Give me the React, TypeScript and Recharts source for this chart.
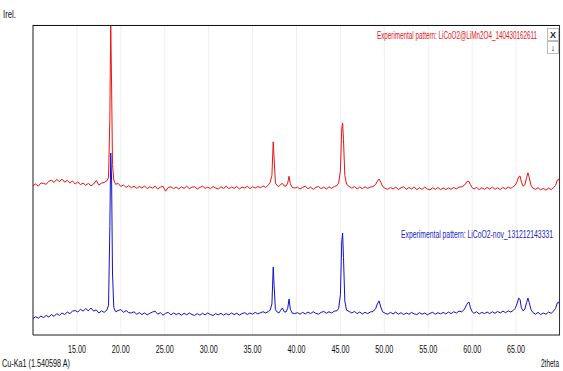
import { LineChart, Line, XAxis, YAxis, CartesianGrid } from 'recharts';

// 2theta positions (deg), denser around the reflections
const twoTheta = [
  10.0, 10.3, 10.6, 10.9, 11.2, 11.5, 11.8, 12.1, 12.4, 12.7,
  13.0, 13.3, 13.6, 13.9, 14.2, 14.5, 14.8, 15.1, 15.4, 15.7,
  16.0, 16.3, 16.6, 16.9, 17.2, 17.5, 17.8, 18.1, 18.4, 18.6,
  18.75, 18.85, 18.95, 19.05, 19.2, 19.4, 19.7, 20.0, 20.3, 20.6,
  20.9, 21.2, 21.5, 21.8, 22.1, 22.4, 22.7, 23.0, 23.3, 23.6,
  23.9, 24.2, 24.5, 24.8, 25.1, 25.4, 25.7, 26.0, 26.3, 26.6,
  26.9, 27.2, 27.5, 27.8, 28.1, 28.4, 28.7, 29.0, 29.3, 29.6,
  29.9, 30.2, 30.5, 30.8, 31.1, 31.4, 31.7, 32.0, 32.3, 32.6,
  32.9, 33.2, 33.5, 33.8, 34.1, 34.4, 34.7, 35.0, 35.3, 35.6,
  35.9, 36.2, 36.5, 36.8, 37.0, 37.2, 37.35, 37.45, 37.6, 37.8,
  38.0, 38.2, 38.4, 38.6, 38.8, 39.0, 39.15, 39.3, 39.5, 39.8,
  40.1, 40.4, 40.7, 41.0, 41.3, 41.6, 41.9, 42.2, 42.5, 42.8,
  43.1, 43.4, 43.7, 44.0, 44.3, 44.6, 44.8, 45.0, 45.15, 45.25,
  45.35, 45.5, 45.7, 46.0, 46.3, 46.6, 46.9, 47.2, 47.5, 47.8,
  48.1, 48.4, 48.7, 49.0, 49.2, 49.4, 49.6, 49.8, 50.1, 50.4,
  50.7, 51.0, 51.3, 51.6, 51.9, 52.2, 52.5, 52.8, 53.1, 53.4,
  53.7, 54.0, 54.3, 54.6, 54.9, 55.2, 55.5, 55.8, 56.1, 56.4,
  56.7, 57.0, 57.3, 57.6, 57.9, 58.2, 58.5, 58.8, 59.1, 59.3,
  59.5, 59.65, 59.8, 60.0, 60.2, 60.5, 60.8, 61.1, 61.4, 61.7,
  62.0, 62.3, 62.6, 62.9, 63.2, 63.5, 63.8, 64.1, 64.4, 64.7,
  64.9, 65.1, 65.3, 65.45, 65.6, 65.8, 66.0, 66.2, 66.35, 66.5,
  66.7, 66.9, 67.2, 67.5, 67.8, 68.1, 68.4, 68.7, 69.0, 69.3,
  69.5, 69.7, 69.85, 70.0,
];

// LiCoO2@LiMn2O4 (red), relative intensity, offset upwards
const redPattern = [
  48.2, 48.7, 48.0, 49.0, 48.9, 48.6, 49.6, 49.9, 49.2, 50.2,
  49.5, 50.3, 49.3, 49.9, 49.0, 49.7, 48.7, 49.4, 48.5, 49.0,
  48.3, 48.9, 48.1, 48.7, 49.8, 48.4, 49.0, 49.2, 49.7, 50.8,
  70.0, 100, 80.0, 55.0, 50.0, 48.6, 48.9, 47.9, 48.4, 47.6,
  48.2, 47.5, 48.0, 47.3, 47.9, 47.4, 48.1, 47.2, 47.8, 47.4,
  48.0, 47.1, 47.7, 48.0, 46.4, 47.6, 47.8, 47.2, 47.7, 47.1,
  47.8, 47.3, 48.0, 47.2, 47.7, 47.8, 47.1, 47.6, 48.0, 47.3,
  47.7, 47.2, 47.9, 47.4, 47.1, 47.8, 47.3, 48.0, 47.2, 47.7,
  47.3, 47.9, 47.1, 47.7, 47.4, 48.0, 47.2, 47.8, 47.4, 47.9,
  47.5, 48.1, 47.6, 48.4, 49.2, 51.5, 62.3, 57.0, 49.0, 48.2,
  47.9, 48.6, 48.9, 48.1, 48.0, 49.0, 51.2, 48.8, 47.6, 47.4,
  47.7, 47.1, 47.6, 48.0, 47.2, 47.7, 47.0, 47.6, 47.9, 47.2,
  47.7, 47.1, 47.8, 47.3, 47.9, 48.2, 49.0, 53.0, 66.5, 68.4,
  63.0, 51.5, 48.6, 47.9, 47.4, 47.9, 47.1, 47.7, 47.2, 47.8,
  47.3, 47.7, 47.9, 48.5, 49.6, 50.3, 49.3, 47.9, 47.3, 47.0,
  47.6, 47.1, 47.7, 46.9, 47.5, 47.8, 47.0, 47.6, 47.1, 47.7,
  46.9, 47.5, 47.0, 47.7, 47.1, 46.8, 47.5, 47.0, 47.6, 46.9,
  47.4, 46.9, 47.5, 47.0, 47.6, 47.1, 47.7, 47.8, 48.3, 49.0,
  49.7, 49.5, 48.5, 47.5, 47.1, 47.6, 46.9, 47.5, 47.0, 47.6,
  47.1, 47.7, 47.0, 47.5, 46.9, 47.6, 47.1, 47.7, 47.3, 47.9,
  48.3, 49.4, 51.0, 51.3, 49.4, 48.0, 48.5, 50.8, 52.3, 50.8,
  48.3, 47.4, 47.0, 47.5, 46.8, 47.3, 46.7, 47.4, 46.9, 47.7,
  48.2, 50.0, 50.3, 49.2,
];

// LiCoO2-nov (blue), relative intensity
const bluePattern = [
  5.3, 5.9, 5.4, 6.1, 5.6, 6.3, 5.8, 6.6, 6.0, 6.9,
  6.3, 7.1, 6.6, 7.4, 6.9, 7.7, 7.9, 7.4, 8.3, 7.7,
  8.5, 7.8, 8.7, 7.7, 8.1, 7.1, 7.8, 7.3, 8.0, 9.5,
  35.0, 58.7, 50.0, 20.0, 8.8, 7.5, 7.9, 8.2, 7.3, 7.9,
  7.2, 7.1, 7.5, 6.7, 7.2, 6.6, 7.1, 6.5, 7.0, 7.4,
  7.7, 6.7, 7.2, 6.4, 7.0, 7.3, 6.5, 7.1, 6.6, 7.0,
  6.4, 7.0, 6.5, 7.1, 6.6, 6.3, 6.9, 6.4, 7.0, 6.5,
  7.1, 6.6, 6.3, 6.9, 6.5, 7.0, 6.4, 6.9, 6.5, 7.1,
  6.6, 7.0, 6.4, 6.9, 7.2, 6.6, 7.1, 6.7, 7.3, 6.8,
  7.2, 7.5, 7.1, 7.6, 8.0, 10.0, 21.9, 16.0, 8.2, 7.4,
  7.1, 8.0, 8.7, 7.5, 7.4, 8.6, 11.6, 8.3, 7.1, 6.9,
  7.2, 6.7, 7.3, 6.8, 7.4, 6.9, 7.5, 7.0, 6.7, 7.3,
  7.6, 7.0, 7.5, 7.1, 7.7, 7.8, 8.6, 13.0, 30.0, 32.9,
  25.0, 11.0, 8.0, 7.6, 7.1, 7.6, 6.9, 7.4, 6.8, 7.3,
  6.9, 7.4, 7.6, 8.4, 10.0, 11.0, 9.0, 7.5, 7.0, 6.7,
  7.3, 6.8, 7.4, 6.7, 7.2, 6.6, 7.1, 6.7, 7.3, 6.8,
  6.6, 7.2, 6.7, 7.1, 6.5, 7.0, 7.3, 6.7, 7.2, 6.8,
  7.3, 6.8, 7.4, 6.9, 7.5, 7.1, 7.7, 7.5, 8.2, 9.4,
  10.4, 10.6, 8.8, 7.5, 7.0, 7.5, 6.8, 7.3, 6.9, 7.4,
  6.9, 7.5, 7.0, 7.6, 7.1, 7.7, 7.2, 7.8, 7.4, 8.0,
  8.6, 10.0, 11.9, 11.5, 8.8, 7.8, 8.4, 10.5, 11.9, 10.4,
  8.2, 7.3, 6.7, 7.3, 6.6, 7.1, 6.7, 7.4, 7.0, 7.8,
  8.6, 10.4, 10.6, 9.5,
];

const xTicks = [15, 20, 25, 30, 35, 40, 45, 50, 55, 60, 65];
const yTicks = [0, 11.6, 23.2, 34.5, 46.8, 52.9, 58.7, 64.8, 70.3, 76.5, 82.3, 88.1, 94.2, 100];

const redLabel = 'Experimental pattern: LiCoO2@LiMn2O4_140430162611';
const blueLabel = 'Experimental pattern: LiCoO2-nov_131212143331';

const rows = twoTheta.map((t, i) => ({ t, red: redPattern[i], blue: bluePattern[i] }));

const FONT = '"Liberation Sans", Arial, sans-serif';

function XTick({ x, y, payload }: any) {
  return (
    <text
      x={x}
      y={y + 10}
      textAnchor="middle"
      fontSize={11}
      fontFamily={FONT}
      fill="#111"
      textLength={18}
      lengthAdjust="spacingAndGlyphs"
    >
      {Number(payload.value).toFixed(2)}
    </text>
  );
}

export default function App() {
  return (
    <div style={{ position: 'fixed', left: 0, top: 0, width: 563, height: 371, background: '#fff' }}>
      <LineChart width={563} height={371} data={rows} margin={{ top: 25, right: 3, bottom: 16, left: 0 }}>
        <CartesianGrid stroke="#efefef" strokeWidth={1} />
        <XAxis
          dataKey="t"
          type="number"
          domain={[10, 70]}
          ticks={xTicks}
          allowDataOverflow
          height={20}
          tickLine={false}
          axisLine={{ stroke: '#222' }}
          tick={<XTick />}
        />
        <YAxis
          type="number"
          domain={[0, 100]}
          ticks={yTicks}
          allowDataOverflow
          width={33}
          tick={false}
          tickSize={4}
          tickLine={{ stroke: '#222' }}
          axisLine={{ stroke: '#222' }}
        />
        <Line dataKey="red" stroke="#ee1111" strokeWidth={1} dot={false} isAnimationActive={false} />
        <Line dataKey="blue" stroke="#1111cc" strokeWidth={1} dot={false} isAnimationActive={false} />
      </LineChart>
      <svg
        width={563}
        height={371}
        style={{ position: 'absolute', left: 0, top: 0, pointerEvents: 'none' }}
        fontFamily={FONT}
      >
        <line x1={33} y1={25.5} x2={560} y2={25.5} stroke="#111" />
        <line x1={559.5} y1={25} x2={559.5} y2={335} stroke="#333" />
        <text x={3} y={18} fontSize={10} fill="#111" textLength={13} lengthAdjust="spacingAndGlyphs">
          Irel.
        </text>
        <text x={2} y={367} fontSize={10.5} fill="#111" textLength={68} lengthAdjust="spacingAndGlyphs">
          Cu-Ka1 (1.540598 A)
        </text>
        <text x={541} y={367} fontSize={10.5} fill="#111" textLength={18} lengthAdjust="spacingAndGlyphs">
          2theta
        </text>
        <text x={377} y={39} fontSize={10} fill="#e8141a" textLength={160} lengthAdjust="spacingAndGlyphs">
          {redLabel}
        </text>
        <text x={401} y={238} fontSize={10} fill="#2222cc" textLength={152} lengthAdjust="spacingAndGlyphs">
          {blueLabel}
        </text>
        <rect x={547.5} y={28.5} width={11} height={12} fill="#fff" stroke="#bbb" />
        <text x={553} y={38} fontSize={9} fontWeight="bold" textAnchor="middle" fill="#222">
          X
        </text>
        <rect x={547.5} y={41.5} width={11} height={12} fill="#fff" stroke="#bbb" />
        <text x={553} y={51} fontSize={9} fontWeight="bold" textAnchor="middle" fill="#222">
          ↓
        </text>
      </svg>
    </div>
  );
}
